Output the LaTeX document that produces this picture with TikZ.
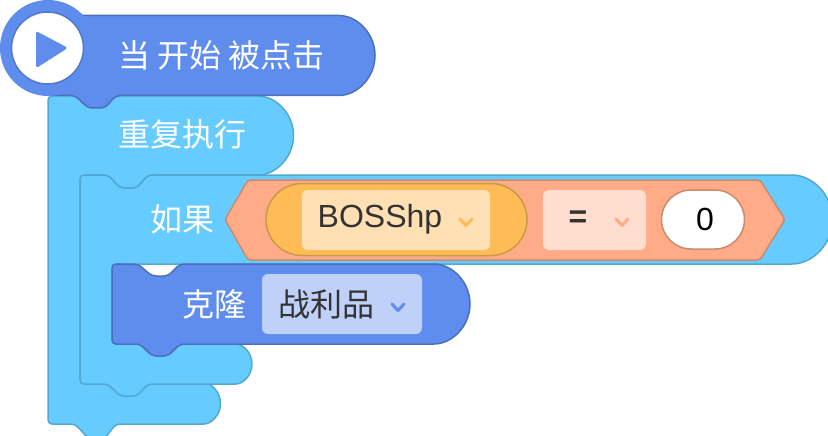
\documentclass[tikz,border=0pt]{standalone}
\usepackage{fontspec}
\setmainfont{Liberation Sans}
\newfontfamily\cjk{Noto Sans CJK SC}
\definecolor{hatblue}{HTML}{5E8DEE}
\definecolor{hatline}{HTML}{4A70BC}
\definecolor{ctrl}{HTML}{66CCFF}
\definecolor{ctrlline}{HTML}{52A8D0}
\definecolor{hexfill}{HTML}{FFAB87}
\definecolor{hexline}{HTML}{C98B70}
\definecolor{pillfill}{HTML}{FFBB55}
\definecolor{pillline}{HTML}{C89A4A}
\definecolor{varbox}{HTML}{FFE0B5}
\definecolor{opbox}{HTML}{FFDDCF}
\definecolor{clonebox}{HTML}{BFD1F8}
\definecolor{ink}{HTML}{333333}
\tikzset{
  hatblock/.style={fill=hatblue,draw=hatline,line width=1.5pt,line join=round},
  ctrlblock/.style={fill=ctrl,draw=ctrlline,line width=1.5pt,line join=round},
  label/.style={inner sep=0pt,anchor=west,text=white,font=\cjk\fontsize{32}{32}\selectfont},
  fieldtext/.style={inner sep=0pt,text=ink,font=\fontsize{32}{32}\selectfont},
  cjkfield/.style={inner sep=0pt,text=ink,font=\cjk\fontsize{32}{32}\selectfont},
  chevron/.style={line width=3pt,line cap=round,line join=round},
  fieldbox/.style={rounded corners=6pt}
}
\begin{document}
\begin{tikzpicture}[x=1pt,y=-1pt]
\useasboundingbox (0,0) rectangle (828,436);
% repeat block
\draw[ctrlblock,rounded corners=4pt] (48,96) -- (254,96) arc[start angle=-90,end angle=90,radius=39.5] -- (148,175) -- (137,188) -- (120,188) -- (108,175) -- (80,175) -- (80,383) -- (200,383) arc[start angle=-90,end angle=90,radius=20.5] -- (116,424) -- (105,438) -- (88,438) -- (75,424) -- (48,424) -- cycle;
% if block
\draw[ctrlblock,rounded corners=4pt] (80,175) -- (108,175) -- (120,188) -- (137,188) -- (148,175) -- (788,175) arc[start angle=-90,end angle=90,radius=44.5] -- (112,264) -- (112,344) -- (232,344) arc[start angle=-90,end angle=90,radius=20] -- (148,384) -- (137,396) -- (120,396) -- (108,384) -- (80,384) -- cycle;
% hat block
\draw[hatblock,rounded corners=4pt] (60,15.5) -- (335,15.5) arc[start angle=-90,end angle=90,radius=40] -- (116,95.5) -- (105,108) -- (88,108) -- (75,95.5) -- (48,95.5) -- cycle;
\fill[hatblue] (48,48) circle[radius=48];
\filldraw[fill=white,draw=hatline!70!hatblue,line width=1.5pt] (47.5,48) circle[radius=36];
\filldraw[fill=hatblue,draw=hatblue,line width=3pt,line join=round] (37.5,33.5) -- (65,48) -- (37.5,65.5) -- cycle;
\node[label] (hatlabel) at (118,55) {当 开始 被点击};
\node[label] (replabel) at (118,134) {重复执行};
% condition
\draw[fill=hexfill,draw=hexline,line width=1.5pt,rounded corners=3pt] (225,219.5) -- (248,180) -- (760,180) -- (785,219.5) -- (760,260) -- (248,260) -- cycle;
\node[label] (iflabel) at (150,219) {如果};
\draw[fill=pillfill,draw=pillline,line width=1.5pt] (302,183.5) -- (491,183.5) arc[start angle=-90,end angle=90,radius=36] -- (302,255.5) arc[start angle=90,end angle=270,radius=36] -- cycle;
\fill[varbox,fieldbox] (302,190) rectangle (490,250);
\node[fieldtext] (varname) at (380,219) {BOSShp};
\draw[pillfill,chevron] (460,219) -- (466,225.5) -- (472,219);
\fill[opbox,fieldbox] (543,190) rectangle (646,250);
\node[fieldtext,font=\bfseries\fontsize{32}{32}\selectfont] (opname) at (578,219) {=};
\draw[hexfill,chevron] (616,219) -- (622,225.5) -- (628,219);
\draw[fill=white,draw=hexline,line width=1.5pt] (691,190) -- (715,190) arc[start angle=-90,end angle=90,radius=29.5] -- (691,249) arc[start angle=90,end angle=270,radius=29.5] -- cycle;
\node[inner sep=0pt,text=black,font=\fontsize{32}{32}\selectfont] (zero) at (705,219) {0};
% clone block
\draw[hatblock,rounded corners=4pt] (112,264) -- (138,264) -- (152,276) -- (168,276) -- (180,264) -- (430,264) arc[start angle=-90,end angle=90,radius=40] -- (180,344) -- (168,356) -- (152,356) -- (140,344) -- (112,344) -- cycle;
\node[label] (clonelabel) at (182,304) {克隆};
\fill[clonebox,fieldbox] (262,274) rectangle (422,334);
\node[cjkfield] (clonefield) at (326,304) {战利品};
\draw[hatblue,chevron] (392,304) -- (398,310.5) -- (404,304);
\end{tikzpicture}
\end{document}
